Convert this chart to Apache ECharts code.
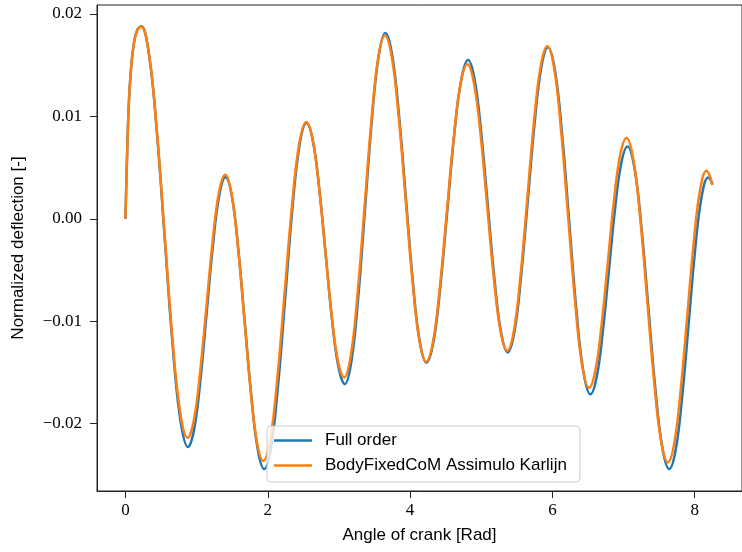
<!DOCTYPE html>
<html>
<head>
<meta charset="utf-8">
<script src="https://cdn.jsdelivr.net/npm/echarts@6/dist/echarts.min.js"></script>
<style>
html,body{margin:0;padding:0;background:#fff;}
#chart{width:742px;height:552px;}
</style>
</head>
<body>
<div id="chart"></div>
<script>
// ---- data ----
var xTicks = [0, 2, 4, 6, 8];
var yTicks = [-0.02, -0.01, 0.0, 0.01, 0.02];

var fullOrderX = [0, 0.018, 0.046, 0.08, 0.125, 0.17, 0.222,
  0.331, 0.441, 0.550, 0.659, 0.769, 0.878,
  0.966, 1.054, 1.142, 1.230, 1.318, 1.406,
  1.497, 1.587, 1.678, 1.769, 1.859, 1.950,
  2.049, 2.148, 2.247, 2.345, 2.444, 2.543,
  2.633, 2.723, 2.813, 2.902, 2.992, 3.082,
  3.177, 3.272, 3.367, 3.462, 3.557, 3.652,
  3.748, 3.844, 3.941, 4.037, 4.133, 4.229,
  4.327, 4.424, 4.522, 4.619, 4.717, 4.814,
  4.907, 5.000, 5.093, 5.186, 5.279, 5.372,
  5.466, 5.560, 5.655, 5.749, 5.843, 5.937,
  6.036, 6.136, 6.235, 6.334, 6.434, 6.533,
  6.620, 6.707, 6.794, 6.881, 6.968, 7.055,
  7.153, 7.251, 7.349, 7.446, 7.544, 7.642,
  7.733, 7.824, 7.915, 8.005, 8.096, 8.187,
  8.217, 8.247];
var fullOrderY = [0, 0.0050, 0.0110, 0.0148, 0.0174, 0.0185, 0.0188,
  0.01605, 0.00853, -0.00175, -0.01203, -0.01955, -0.0223,
  -0.02054, -0.01571, -0.00913, -0.00254, 0.00228, 0.00405,
  0.00214, -0.00308, -0.0102, -0.01733, -0.02254, -0.02445,
  -0.02219, -0.0160, -0.00755, 0.0009, 0.00709, 0.00935,
  0.00764, 0.00298, -0.0034, -0.00978, -0.01444, -0.01615,
  -0.01385, -0.00758, 0.0010, 0.00958, 0.01585, 0.01815,
  0.01599, 0.0101, 0.00205, -0.0060, -0.01189, -0.01405,
  -0.01207, -0.00666, 0.00073, 0.00811, 0.01352, 0.0155,
  0.01359, 0.00836, 0.00123, -0.00591, -0.01114, -0.01305,
  -0.01105, -0.0056, 0.00185, 0.0093, 0.01475, 0.01675,
  0.01448, 0.00828, -0.0002, -0.00868, -0.01488, -0.01715,
  -0.01553, -0.0111, -0.00504, 0.00102, 0.00545, 0.00707,
  0.00496, -0.00081, -0.00869, -0.01657, -0.02234, -0.02445,
  -0.02254, -0.01733, -0.0102, -0.00308, 0.00213, 0.00404,
  0.00385, 0.0034];

var bodyFixedX = [0, 0.018, 0.046, 0.08, 0.125, 0.17, 0.222,
  0.331, 0.439, 0.548, 0.656, 0.765, 0.873,
  0.961, 1.049, 1.138, 1.226, 1.314, 1.402,
  1.491, 1.580, 1.669, 1.758, 1.847, 1.936,
  2.037, 2.137, 2.238, 2.339, 2.439, 2.540,
  2.629, 2.718, 2.807, 2.895, 2.984, 3.073,
  3.169, 3.264, 3.360, 3.456, 3.551, 3.647,
  3.743, 3.840, 3.936, 4.032, 4.129, 4.225,
  4.322, 4.418, 4.515, 4.612, 4.708, 4.805,
  4.898, 4.992, 5.085, 5.178, 5.272, 5.365,
  5.459, 5.553, 5.647, 5.740, 5.834, 5.928,
  6.026, 6.123, 6.221, 6.319, 6.416, 6.514,
  6.602, 6.690, 6.778, 6.865, 6.953, 7.041,
  7.138, 7.235, 7.332, 7.429, 7.526, 7.623,
  7.713, 7.803, 7.894, 7.984, 8.074, 8.164,
  8.205, 8.247];
var bodyFixedY = [0, 0.0050, 0.0110, 0.0148, 0.0174, 0.0185, 0.01875,
  0.01606, 0.00871, -0.00133, -0.01136, -0.01871, -0.0214,
  -0.01968, -0.01498, -0.00855, -0.00213, 0.00258, 0.0043,
  0.00243, -0.00269, -0.00968, -0.01666, -0.02178, -0.02365,
  -0.02143, -0.01538, -0.0071, 0.00118, 0.00723, 0.00945,
  0.00778, 0.00321, -0.00303, -0.00926, -0.01383, -0.0155,
  -0.01326, -0.00715, 0.0012, 0.00955, 0.01566, 0.0179,
  0.01577, 0.00994, 0.00198, -0.00599, -0.01182, -0.01395,
  -0.0120, -0.00669, 0.00058, 0.00784, 0.01315, 0.0151,
  0.01322, 0.0081, 0.0011, -0.0059, -0.01102, -0.0129,
  -0.01091, -0.00546, 0.00198, 0.00941, 0.01486, 0.01685,
  0.01462, 0.00851, 0.00018, -0.00816, -0.01427, -0.0165,
  -0.01487, -0.0104, -0.0043, 0.0018, 0.00627, 0.0079,
  0.00578, -0.00003, -0.00795, -0.01588, -0.02168, -0.0238,
  -0.02189, -0.01668, -0.00955, -0.00243, 0.00279, 0.0047,
  0.0043, 0.0033];

var seriesNames = ['Full order', 'BodyFixedCoM Assimulo Karlijn'];
var xName = 'Angle of crank [Rad]';
var yName = 'Normalized deflection [-]';

function pairs(xs, ys) {
  var out = [];
  for (var i = 0; i < xs.length; i++) out.push([xs[i], ys[i]]);
  return out;
}
function fmtY(v) {
  var s = Math.abs(v).toFixed(2);
  return (v < -1e-12 ? '\u2212' : '') + s;
}

var chart = echarts.init(document.getElementById('chart'), null, {renderer: 'canvas'});
chart.setOption({
  animation: false,
  backgroundColor: '#ffffff',
  grid: {
    left: 97, top: 5, width: 654, height: 486,
    show: true, borderColor: '#222', borderWidth: 1, backgroundColor: 'transparent'
  },
  xAxis: {
    type: 'value', min: -0.40, max: 8.664,
    name: xName, nameLocation: 'middle', nameGap: 36,
    nameTextStyle: {fontFamily: 'Liberation Sans', fontSize: 17, color: '#000'},
    axisLine: {show: true, onZero: false, lineStyle: {color: '#222', width: 1}},
    axisTick: {show: true, length: 7, lineStyle: {color: '#222', width: 1}, customValues: xTicks},
    axisLabel: {show: true, margin: 11, fontFamily: 'Liberation Serif', fontSize: 17, color: '#000',
      customValues: xTicks, formatter: function (v) { return String(v); }},
    splitLine: {show: false}
  },
  yAxis: {
    type: 'value', min: -0.02659, max: 0.02088,
    name: yName, nameLocation: 'middle', nameGap: 70, nameRotate: 90,
    nameTextStyle: {fontFamily: 'Liberation Sans', fontSize: 17, color: '#000'},
    axisLine: {show: true, onZero: false, lineStyle: {color: '#222', width: 1}},
    axisTick: {show: true, length: 7, lineStyle: {color: '#222', width: 1}, customValues: yTicks},
    axisLabel: {show: true, margin: 15, fontFamily: 'Liberation Serif', fontSize: 17, color: '#000',
      customValues: yTicks, formatter: fmtY},
    splitLine: {show: false}
  },
  legend: {
    show: true, orient: 'vertical', left: 267, top: 426,
    padding: [6, 13, 8, 7], itemGap: 8, itemWidth: 38, itemHeight: 2.5,
    icon: 'rect',
    backgroundColor: 'rgba(255,255,255,0.8)', borderColor: '#cccccc', borderWidth: 1, borderRadius: 4,
    textStyle: {fontFamily: 'Liberation Sans', fontSize: 17, color: '#000', padding: [0, 0, 0, 8], lineHeight: 16},
    data: seriesNames
  },
  series: [
    {
      name: seriesNames[0], type: 'line', data: pairs(fullOrderX, fullOrderY),
      symbol: 'none', smooth: 0.4, color: '#1f77b4',
      lineStyle: {color: '#1f77b4', width: 2.5}
    },
    {
      name: seriesNames[1], type: 'line', data: pairs(bodyFixedX, bodyFixedY),
      symbol: 'none', smooth: 0.4, color: '#ff7f0e',
      lineStyle: {color: '#ff7f0e', width: 2.5}
    }
  ]
});
</script>
</body>
</html>
